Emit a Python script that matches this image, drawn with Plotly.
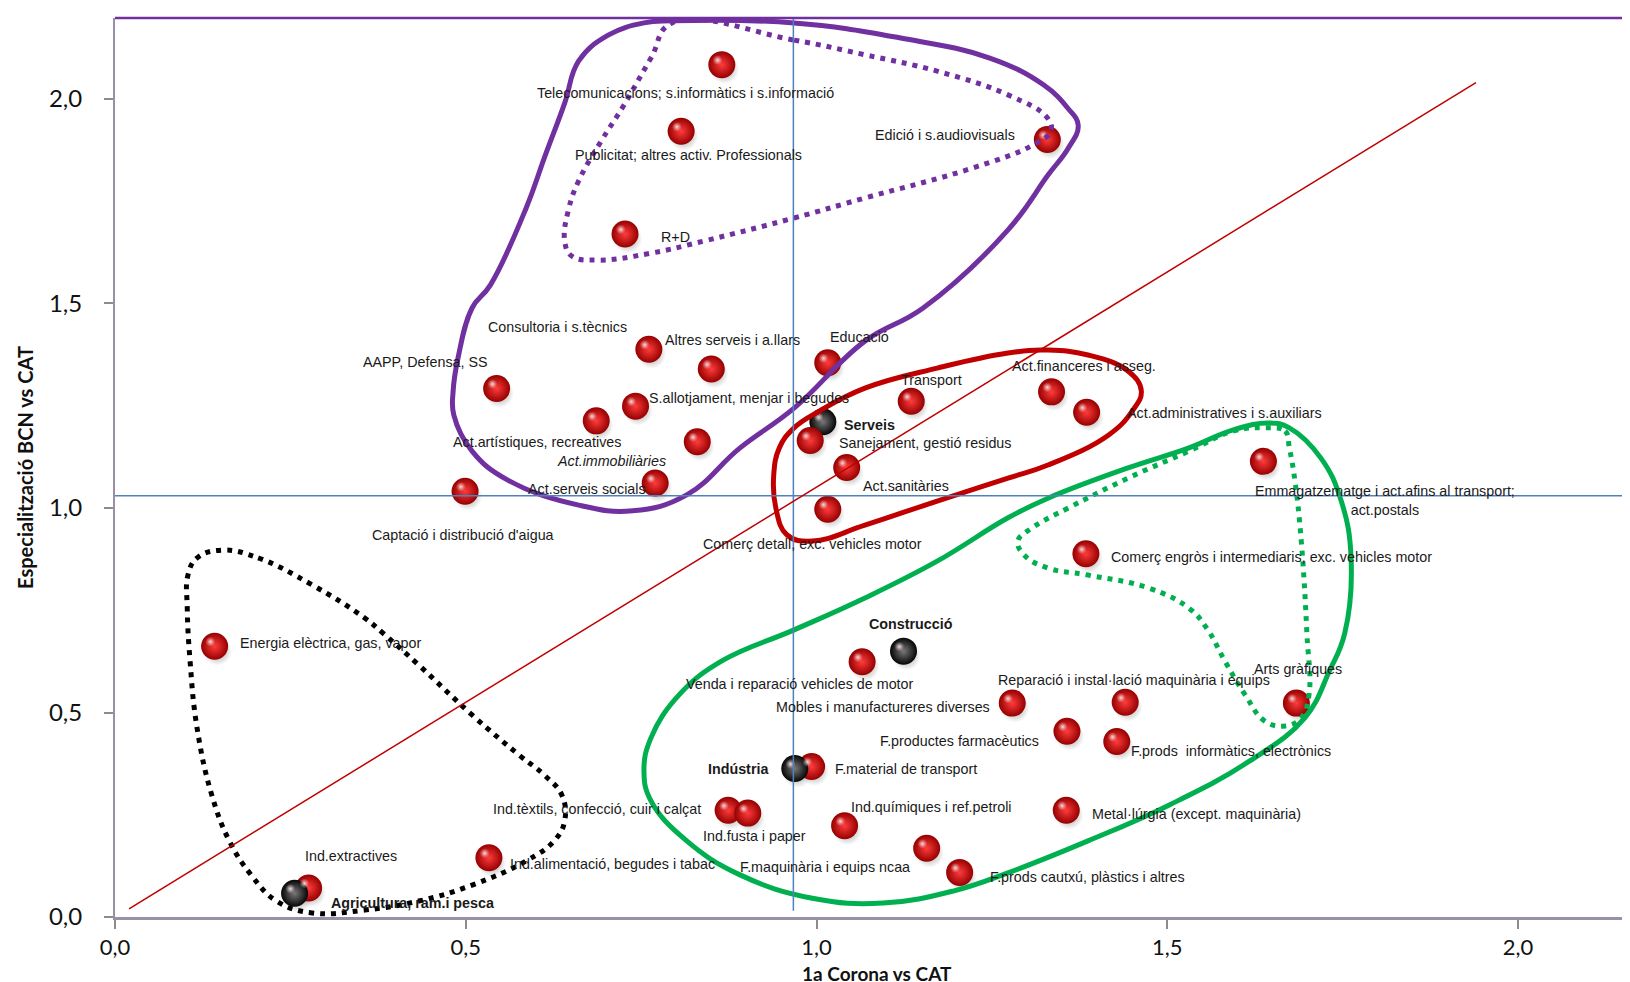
import plotly.graph_objects as go

# ---------------- data ----------------
sectors = [
    "Telecomunicacions; s.informàtics i s.informació",
    "Publicitat; altres activ. Professionals",
    "Edició i s.audiovisuals",
    "R+D",
    "Consultoria i s.tècnics",
    "Altres serveis i a.llars",
    "Educació",
    "AAPP, Defensa, SS",
    "S.allotjament, menjar i begudes",
    "Act.artístiques, recreatives",
    "Act.immobiliàries",
    "Act.serveis socials",
    "Captació i distribució d'aigua",
    "Serveis",
    "Sanejament, gestió residus",
    "Transport",
    "Act.sanitàries",
    "Comerç detall, exc. vehicles motor",
    "Act.financeres i asseg.",
    "Act.administratives i s.auxiliars",
    "Emmagatzematge i act.afins al transport;<br>act.postals",
    "Comerç engròs i intermediaris, exc. vehicles motor",
    "Energia elèctrica, gas, vapor",
    "Construcció",
    "Venda i reparació vehicles de motor",
    "Mobles i manufactureres diverses",
    "Reparació i instal·lació maquinària i equips",
    "Arts gràfiques",
    "F.productes farmacèutics",
    "F.prods  informàtics, electrònics",
    "F.material de transport",
    "Indústria",
    "Ind.tèxtils, confecció, cuir i calçat",
    "Ind.fusta i paper",
    "Ind.químiques i ref.petroli",
    "Metal·lúrgia (except. maquinària)",
    "F.maquinària i equips ncaa",
    "F.prods cautxú, plàstics i altres",
    "Ind.alimentació, begudes i tabac",
    "Ind.extractives",
    "Agricultura, ram.i pesca",
]
corona_vs_cat = [0.865, 0.807, 1.329, 0.727, 0.761, 0.850, 1.016, 0.544, 0.742, 0.686,
                 0.830, 0.770, 0.499, 1.009, 0.991, 1.135, 1.043, 1.016, 1.335, 1.385,
                 1.637, 1.384, 0.142, 1.124, 1.065, 1.279, 1.440, 1.684, 1.357, 1.428,
                 0.993, 0.969, 0.874, 0.902, 1.040, 1.356, 1.157, 1.204, 0.533, 0.276,
                 0.256]
bcn_vs_cat = [2.084, 1.921, 1.901, 1.670, 1.388, 1.340, 1.355, 1.292, 1.249, 1.213,
              1.162, 1.061, 1.041, 1.211, 1.165, 1.261, 1.099, 0.997, 1.284, 1.234,
              1.114, 0.888, 0.662, 0.650, 0.624, 0.523, 0.525, 0.523, 0.454, 0.429,
              0.368, 0.363, 0.261, 0.254, 0.223, 0.261, 0.168, 0.109, 0.145, 0.071,
              0.058]
aggregates = ["Serveis", "Construcció", "Indústria", "Agricultura, ram.i pesca"]
italic_labels = ["Act.immobiliàries"]

x_tick_vals = [0.0, 0.5, 1.0, 1.5, 2.0]
x_tick_text = ["0,0", "0,5", "1,0", "1,5", "2,0"]
y_tick_vals = [0.0, 0.5, 1.0, 1.5, 2.0]
y_tick_text = ["0,0", "0,5", "1,0", "1,5", "2,0"]
x_title = "1a Corona vs CAT"
y_title = "Especialització BCN vs CAT"

mean_corona = 0.967
mean_bcn = 1.03
diagonal_x = [0.02, 1.94]
diagonal_y = [0.02, 2.04]

# hand-drawn group outlines (data coordinates)
purple_outer_x = [0.794, 0.968, 1.120, 1.247, 1.324, 1.358, 1.373, 1.359, 1.330, 1.273, 1.152, 1.069,
                  0.968, 0.891, 0.815, 0.738, 0.661, 0.560, 0.509, 0.483, 0.482, 0.489, 0.509, 0.535,
                  0.586, 0.612, 0.641, 0.661, 0.703, 0.754]
purple_outer_y = [2.191, 2.186, 2.149, 2.100, 2.034, 1.978, 1.936, 1.880, 1.814, 1.680, 1.489, 1.408,
                  1.244, 1.147, 1.032, 0.993, 1.007, 1.068, 1.139, 1.227, 1.286, 1.367, 1.489, 1.545,
                  1.733, 1.856, 1.990, 2.093, 2.156, 2.186]
purple_inner_x = [0.794, 0.968, 1.069, 1.172, 1.273, 1.329, 1.334, 1.309, 1.222, 1.069, 0.968, 0.840,
                  0.764, 0.687, 0.651, 0.641, 0.647, 0.661, 0.693, 0.723, 0.764]
purple_inner_y = [2.186, 2.144, 2.108, 2.068, 2.010, 1.954, 1.922, 1.888, 1.831, 1.758, 1.709, 1.653,
                  1.623, 1.606, 1.616, 1.653, 1.733, 1.800, 1.897, 1.978, 2.100]
red_loop_x = [0.939, 0.947, 0.968, 1.004, 1.069, 1.172, 1.273, 1.330, 1.387, 1.444, 1.463, 1.450,
              1.416, 1.330, 1.273, 1.172, 1.069, 0.994, 0.958, 0.942]
red_loop_y = [1.081, 1.147, 1.196, 1.237, 1.293, 1.342, 1.379, 1.386, 1.374, 1.335, 1.286, 1.237,
              1.178, 1.105, 1.073, 1.017, 0.958, 0.919, 0.934, 1.000]
green_outer_x = [1.645, 1.674, 1.719, 1.748, 1.762, 1.753, 1.731, 1.696, 1.617, 1.503, 1.387, 1.273,
                 1.196, 1.095, 0.994, 0.891, 0.815, 0.764, 0.754, 0.764, 0.804, 0.865, 0.968, 1.069,
                 1.172, 1.273, 1.330, 1.444, 1.531, 1.594]
green_outer_y = [1.208, 1.196, 1.122, 1.017, 0.878, 0.694, 0.601, 0.487, 0.381, 0.274, 0.186, 0.108,
                 0.064, 0.034, 0.046, 0.103, 0.186, 0.284, 0.357, 0.438, 0.543, 0.626, 0.702, 0.780,
                 0.870, 0.976, 1.024, 1.098, 1.147, 1.191]
green_inner_x = [1.639, 1.668, 1.674, 1.682, 1.691, 1.699, 1.702, 1.691, 1.668, 1.639, 1.611, 1.582,
                 1.557, 1.531, 1.474, 1.387, 1.330, 1.296, 1.287, 1.307, 1.359, 1.444, 1.531, 1.594]
green_inner_y = [1.196, 1.188, 1.147, 1.066, 0.919, 0.694, 0.543, 0.487, 0.467, 0.479, 0.543, 0.626,
                 0.704, 0.755, 0.804, 0.836, 0.853, 0.885, 0.919, 0.951, 1.000, 1.073, 1.139, 1.188]
black_loop_x = [0.153, 0.204, 0.281, 0.356, 0.382, 0.433, 0.509, 0.576, 0.612, 0.637, 0.641, 0.626,
                0.586, 0.509, 0.433, 0.356, 0.281, 0.230, 0.194, 0.163, 0.138, 0.117, 0.107, 0.103,
                0.104, 0.117]
black_loop_y = [0.897, 0.878, 0.812, 0.731, 0.694, 0.616, 0.494, 0.396, 0.347, 0.298, 0.235, 0.186,
                0.137, 0.078, 0.039, 0.017, 0.010, 0.039, 0.103, 0.186, 0.298, 0.462, 0.626, 0.755,
                0.836, 0.878]

# label placement (anchor, x shift px, y shift px downwards)
label_place = [
    ("center", -36, 28), ("center", 7, 24), ("right", -30, -4), ("left", 34, 3),
    ("right", -20, -22), ("left", -48, -29), ("left", 0, -26), ("right", -7, -27),
    ("left", 11, -8), ("right", 27, 21), ("right", -29, 19), ("right", -7, 6),
    ("center", -2, 44), ("left", 19, 3), ("left", 27, 2), ("left", -12, -21),
    ("left", 14, 18), ("center", -15, 35), ("left", -42, -26), ("left", 38, 1),
    ("center", 122, 39), ("left", 23, 3), ("left", 23, -3), ("center", 7, -27),
    ("center", -62, 22), ("right", -20, 4), ("center", 9, -22), ("center", 2, -34),
    ("right", -26, 10), ("left", 12, 9), ("left", 21, 3), ("right", -24, 0),
    ("right", -25, -1), ("center", 7, 23), ("left", 4, -19), ("left", 24, 4),
    ("right", -15, 19), ("left", 28, 5), ("left", 19, 6), ("center", 42, -32),
    ("left", 34, 10),
]

# ---------------- figure ----------------
fig = go.Figure()

edge_cols = ["#050505" if s in aggregates else "#960000" for s in sectors]
center_cols = ["#787878" if s in aggregates else "#ff3c3c" for s in sectors]

# soft drop shadow, slightly below/right of each sphere
shadow_x = [v + 0.004 for v in corona_vs_cat]
shadow_y = [v - 0.012 for v in bcn_vs_cat]
fig.add_trace(go.Scatter(
    x=shadow_x, y=shadow_y, mode="markers", hoverinfo="skip",
    marker=dict(size=29, color="rgba(80,80,80,0)", line=dict(width=0),
                gradient=dict(type="radial", color="rgba(60,60,60,0.55)")),
    showlegend=False))

fig.add_trace(go.Scatter(
    x=corona_vs_cat, y=bcn_vs_cat, mode="markers", text=sectors, hoverinfo="text",
    marker=dict(size=27, color=edge_cols, line=dict(width=0),
                gradient=dict(type="radial", color=center_cols)),
    showlegend=False))

# glossy highlight, upper-left of each sphere
shine_x = [v - 0.006 for v in corona_vs_cat]
shine_y = [v + 0.011 for v in bcn_vs_cat]
fig.add_trace(go.Scatter(
    x=shine_x, y=shine_y, mode="markers", hoverinfo="skip",
    marker=dict(size=10, color="rgba(255,200,200,0)", line=dict(width=0),
                gradient=dict(type="radial", color="rgba(255,255,255,0.85)")),
    showlegend=False))

loops = [
    (purple_outer_x, purple_outer_y, "#7030a0", "solid"),
    (purple_inner_x, purple_inner_y, "#7030a0", "5px,6px"),
    (red_loop_x, red_loop_y, "#c00000", "solid"),
    (green_outer_x, green_outer_y, "#00b050", "solid"),
    (green_inner_x, green_inner_y, "#00b050", "5px,6px"),
    (black_loop_x, black_loop_y, "#000000", "5px,6px"),
]
for lx, ly, col, dash in loops:
    fig.add_trace(go.Scatter(
        x=lx + lx[:1], y=ly + ly[:1], mode="lines", hoverinfo="skip",
        line=dict(color=col, width=5, dash=dash, shape="spline", smoothing=1.2),
        showlegend=False))

# reference lines
fig.add_shape(type="line", x0=mean_corona, x1=mean_corona, y0=0.015, y1=2.198,
              line=dict(color="#4f81bd", width=1.5))
fig.add_shape(type="line", x0=0, x1=2.171, y0=mean_bcn, y1=mean_bcn,
              line=dict(color="#4f81bd", width=1.5))
fig.add_shape(type="line", x0=diagonal_x[0], x1=diagonal_x[1], y0=diagonal_y[0], y1=diagonal_y[1],
              line=dict(color="#c00000", width=1.5))
fig.add_shape(type="line", xref="paper", yref="paper", x0=0, x1=1, y0=1, y1=1,
              line=dict(color="#7030a0", width=2.5))

label_font = "Liberation Sans Narrow, Arial Narrow, Liberation Sans, sans-serif"
for name, xv, yv, (anc, dx, dy) in zip(sectors, corona_vs_cat, bcn_vs_cat, label_place):
    txt = name
    if name in aggregates:
        txt = "<b>" + name + "</b>"
    elif name in italic_labels:
        txt = "<i>" + name + "</i>"
    fig.add_annotation(x=xv, y=yv, text=txt, showarrow=False, xanchor=anc, yanchor="middle",
                       xshift=dx, yshift=-dy, align="center",
                       font=dict(family=label_font, size=14.3, color="#1a1a1a"))

x_axis_font = dict(family="Lato, Open Sans, sans-serif", size=22, color="#111111")
y_axis_font = dict(family="Lato, Open Sans, sans-serif", size=24, color="#111111")
title_font = dict(family="Lato, Open Sans, sans-serif", size=19, color="#111111")

# x-axis title placed just below the tick labels
fig.add_annotation(xref="paper", yref="paper", x=0.5, y=0, yshift=-56, xanchor="center",
                   yanchor="middle", showarrow=False, text="<b>" + x_title + "</b>",
                   font=title_font, borderpad=0)

fig.update_layout(
    width=1630, height=982,
    margin=dict(l=107, r=0, t=10, b=73),
    paper_bgcolor="white", plot_bgcolor="white",
    xaxis=dict(range=[0, 2.171], tickvals=x_tick_vals, ticktext=x_tick_text, automargin=False,
               showgrid=False, zeroline=False, showline=True, linecolor="#9a90a6", linewidth=2.5,
               ticks="outside", ticklen=9, tickwidth=1.5, tickcolor="#8c8c8c",
               tickfont=x_axis_font, ticklabelstandoff=0),
    yaxis=dict(range=[0, 2.198], tickvals=y_tick_vals, ticktext=y_tick_text, automargin=False,
               showgrid=False, zeroline=False, showline=True, linecolor="#9a90a6", linewidth=2,
               ticks="outside", ticklen=9, tickwidth=1.5, tickcolor="#8c8c8c",
               tickfont=y_axis_font, ticklabelstandoff=17,
               title=dict(text="<b>" + y_title + "</b>", standoff=10,
                          font=dict(family="Lato, Open Sans, sans-serif", size=20, color="#111111"))),
)

fig.write_html("out.html")
